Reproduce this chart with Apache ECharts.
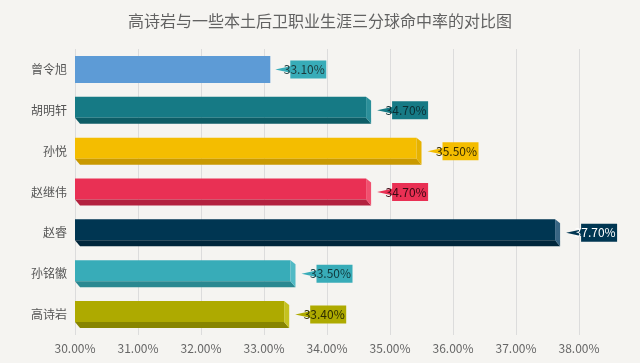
<!DOCTYPE html>
<html><head><meta charset="utf-8">
<script src="https://cdn.jsdelivr.net/npm/echarts@6/dist/echarts.min.js"></script>
<style>html,body{margin:0;padding:0;background:#f5f4f1;}#c{width:640px;height:363px;}</style>
</head><body><div id="c"></div>
<script>
const title = '高诗岩与一些本土后卫职业生涯三分球命中率的对比图';
const categories = ['曾令旭','胡明轩','孙悦','赵继伟','赵睿','孙铭徽','高诗岩'];
const values = [33.1, 34.7, 35.5, 34.7, 37.7, 33.5, 33.4];
const axisMin = 30, axisMax = 38, axisStep = 1;

const faceColors   = ['#5d9bd6','#167a85','#f4bd00','#e93054','#003652','#38acb8','#aeaa00'];
const bottomColors = ['#5d9bd6','#0d5d66','#c99900','#b3223f','#00263b','#2a8891','#878500'];
const sideColors   = ['#5d9bd6','#2b8f9a','#e6b200','#f0506f','#386583','#52bac5','#c5c21f'];
const labelBg      = ['#38acb8','#167a85','#f4bd00','#e93054','#003652','#38acb8','#aeaa00'];
const labelFg      = ['#1c3a3c','#0b2e33','#3a2e00','#3a0a14','#ffffff','#10373b','#2e2d00'];

const chart = echarts.init(document.getElementById('c'));
const font = "'Noto Sans CJK SC','Microsoft YaHei',sans-serif";

chart.setOption({
  backgroundColor: '#f5f4f1',
  animation: false,
  title: {
    text: title, left: 'center', top: 8,
    textStyle: {fontSize: 16, fontWeight: 'normal', color: '#626262', fontFamily: font}
  },
  grid: {left: 75, right: 61, top: 49, bottom: 28},
  xAxis: {
    type: 'value', min: axisMin, max: axisMax, interval: axisStep,
    axisLine: {show: false}, axisTick: {show: false},
    splitLine: {show: true, lineStyle: {color: '#dcdcdc', width: 1}},
    axisLabel: {formatter: v => v.toFixed(2) + '%', color: '#666', fontSize: 12, fontFamily: font, margin: 7}
  },
  yAxis: {
    type: 'category', data: categories, inverse: true,
    axisLine: {show: false}, axisTick: {show: false},
    axisLabel: {color: '#555', fontSize: 12, fontFamily: font, margin: 8}
  },
  series: [{
    type: 'custom',
    data: values.map((v, i) => [v, i]),
    encode: {x: 0, y: 1},
    renderItem: function (params, api) {
      const i = api.value(1);
      const v = api.value(0);
      const p0 = api.coord([axisMin, i]);
      const p1 = api.coord([v, i]);
      const x0 = p0[0], x1 = p1[0], yc = p1[1];
      const h = 27;
      const t = yc - h / 2, b = yc + h / 2;
      const d = 5, dv = 6;
      const children = [];
      if (i === 0) {
        children.push({type: 'rect', shape: {x: x0, y: t, width: x1 - x0, height: h},
          style: {fill: faceColors[i]}});
      } else {
        children.push({type: 'polygon', shape: {points: [[x0, t], [x1 - d, t], [x1 - d, b - dv], [x0, b - dv]]},
          style: {fill: faceColors[i]}});
        children.push({type: 'polygon', shape: {points: [[x0, b - dv], [x1 - d, b - dv], [x1, b], [x0 + d, b]]},
          style: {fill: bottomColors[i]}});
        children.push({type: 'polygon', shape: {points: [[x1 - d, t], [x1, t + 4], [x1, b], [x1 - d, b - dv]]},
          style: {fill: sideColors[i]}});
      }
      const lx = x1 + (i === 0 ? 5 : 6);
      children.push({type: 'polygon', shape: {points: [[lx, yc], [lx + 16, yc - 3.5], [lx + 16, yc + 3.5]]},
        style: {fill: labelBg[i]}});
      children.push({type: 'rect', shape: {x: lx + 15, y: yc - 9, width: 36, height: 18},
        style: {fill: labelBg[i]}});
      children.push({type: 'text', style: {
        text: v.toFixed(2) + '%', x: lx + 29, y: yc, align: 'center', verticalAlign: 'middle',
        fill: labelFg[i], fontSize: 12, fontFamily: font}});
      return {type: 'group', children: children};
    }
  }]
});
</script></body></html>
